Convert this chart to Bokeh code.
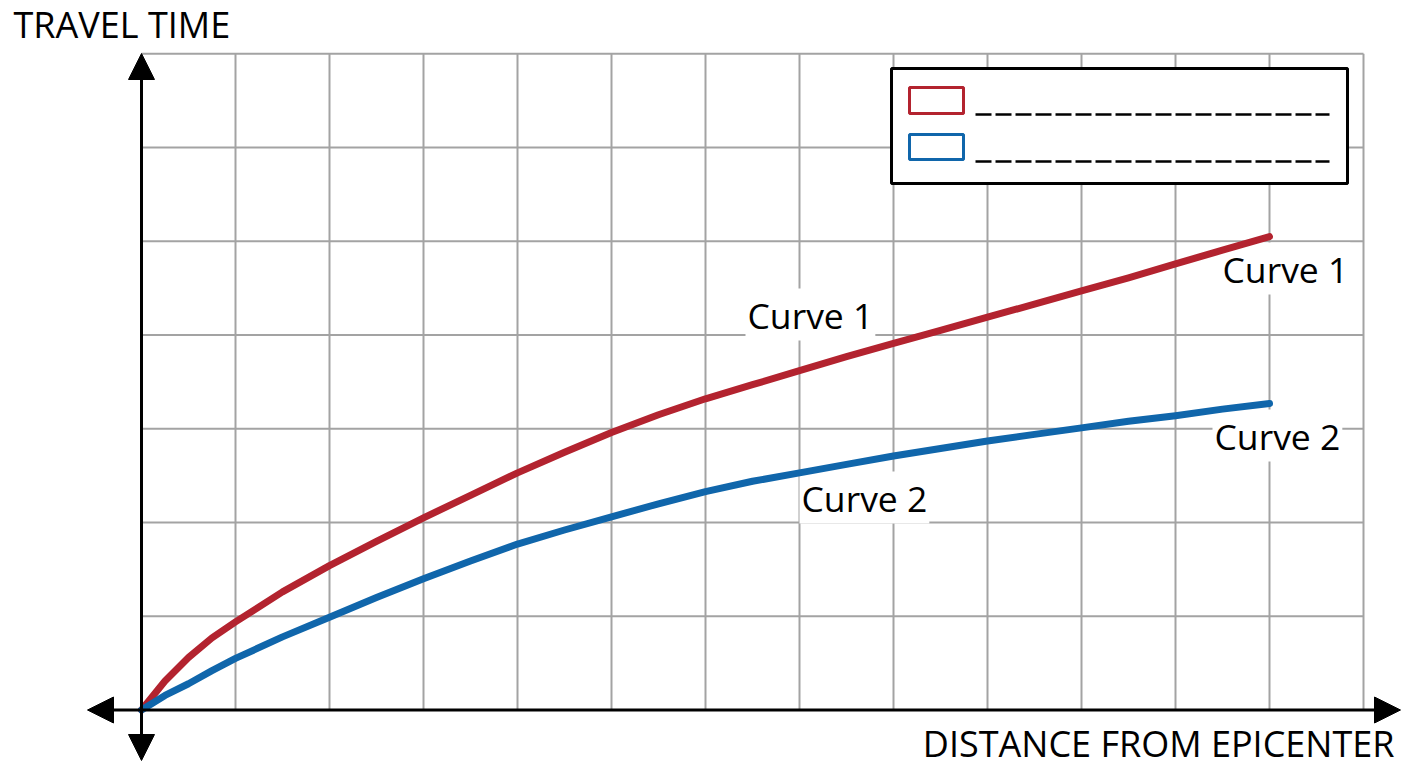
from bokeh.plotting import figure
from bokeh.models import Range1d, Arrow, NormalHead, ColumnDataSource
from bokeh.core.properties import value
from bokeh.embed import file_html
from bokeh.resources import INLINE

# ---------------- data (grid units) ----------------
distance = [0, 0.25, 0.5, 0.75, 1, 1.5, 2, 2.5, 3, 3.5, 4, 4.5, 5, 5.5, 6,
            6.5, 7, 7.5, 8, 8.5, 9, 9.5, 10, 10.5, 11, 11.5, 12]
curve1 = [0, 0.31, 0.56, 0.77, 0.94, 1.26, 1.54, 1.80, 2.05, 2.29, 2.53, 2.75, 2.96, 3.15, 3.32,
          3.47, 3.62, 3.77, 3.91, 4.05, 4.19, 4.33, 4.47, 4.61, 4.76, 4.905, 5.05]
curve2 = [0, 0.155, 0.28, 0.42, 0.55, 0.78, 0.99, 1.20, 1.40, 1.59, 1.77, 1.92, 2.06, 2.20, 2.33,
          2.44, 2.53, 2.62, 2.71, 2.79, 2.87, 2.94, 3.01, 3.08, 3.14, 3.21, 3.27]
series_names = ["Curve 1", "Curve 2"]
series_colors = ["#B3232F", "#1066AB"]
n_cols = 13
n_rows = 7
x_title = "DISTANCE FROM EPICENTER"
y_title = "TRAVEL TIME"

# ---------------- layout helpers ----------------
W, H = 1408, 768
X0, Y0 = 141.0, 709.5      # pixel position of origin
XU, YU = 94.0, 93.74       # pixels per grid unit

def X(px):
    return (px - X0) / XU

def Y(py):
    return (Y0 - py) / YU

p = figure(width=W, height=H, output_backend="svg", toolbar_location=None,
           x_range=Range1d(X(0), X(W)), y_range=Range1d(Y(H), Y(0)),
           min_border=0, min_border_left=0, min_border_right=0,
           min_border_top=0, min_border_bottom=0)
p.axis.visible = False
p.grid.visible = False
p.outline_line_color = None
p.background_fill_color = "white"
p.border_fill_color = "white"

FONT = value("Open Sans")

# ---------------- grid ----------------
gx = list(range(1, n_cols + 1))
p.segment(x0=gx, y0=[0] * len(gx), x1=gx, y1=[n_rows] * len(gx),
          line_color="#A3A3A3", line_width=2)
gy = list(range(1, n_rows + 1))
p.segment(x0=[0] * len(gy), y0=gy, x1=[n_cols] * len(gy), y1=gy,
          line_color="#A3A3A3", line_width=2)

# ---------------- legend box (blank fill-in lines) ----------------
p.quad(left=X(891), right=X(1347), top=Y(68), bottom=Y(183),
       fill_color="white", line_color="black", line_width=3)
sw_top = [Y(87), Y(134)]
sw_bot = [Y(113), Y(159)]
line_y = [Y(114), Y(161)]
for i in range(2):
    p.quad(left=X(909), right=X(963), top=sw_top[i], bottom=sw_bot[i],
           fill_color="white", line_color=series_colors[i], line_width=3)
    p.segment(x0=[X(975)], y0=[line_y[i]], x1=[X(1329)], y1=[line_y[i]],
              line_color="black", line_width=2.5, line_dash="16 4")

# ---------------- curve labels (white backing under the curves) ----------------
lab = ColumnDataSource(dict(
    x=[X(745), X(799), X(1220), X(1212)],
    y=[Y(314), Y(497), Y(268), Y(435)],
    text=[series_names[0], series_names[1], series_names[0], series_names[1]],
))
p.text(x="x", y="y", text="text", source=lab, text_font=FONT, text_font_size="35.5px",
       text_color="black", text_align="left", text_baseline="alphabetic",
       background_fill_color="white", padding=2)

# ---------------- curves ----------------
p.line(distance, curve1, line_color=series_colors[0], line_width=7, line_join="round", line_cap="round")
p.line(distance, curve2, line_color=series_colors[1], line_width=7, line_join="round", line_cap="round")

# ---------------- axes with arrows ----------------
def head():
    return NormalHead(size=26, fill_color="black", line_color="black", line_width=1)

p.add_layout(Arrow(x_start=X(87), y_start=0, x_end=X(1400), y_end=0,
                   start=head(), end=head(), line_color="black", line_width=3))
p.add_layout(Arrow(x_start=0, y_start=Y(760), x_end=0, y_end=Y(53),
                   start=head(), end=head(), line_color="black", line_width=3))

# ---------------- axis titles ----------------
p.text(x=[X(13)], y=[Y(24)], text=[y_title], text_font=FONT, text_font_size="36px",
       text_color="black", text_align="left", text_baseline="alphabetic")
p.text(x=[X(1394)], y=[Y(743)], text=[x_title], text_font=FONT, text_font_size="36px",
       text_color="black", text_align="right", text_baseline="alphabetic")

open("out.html", "w").write(file_html(p, INLINE))
